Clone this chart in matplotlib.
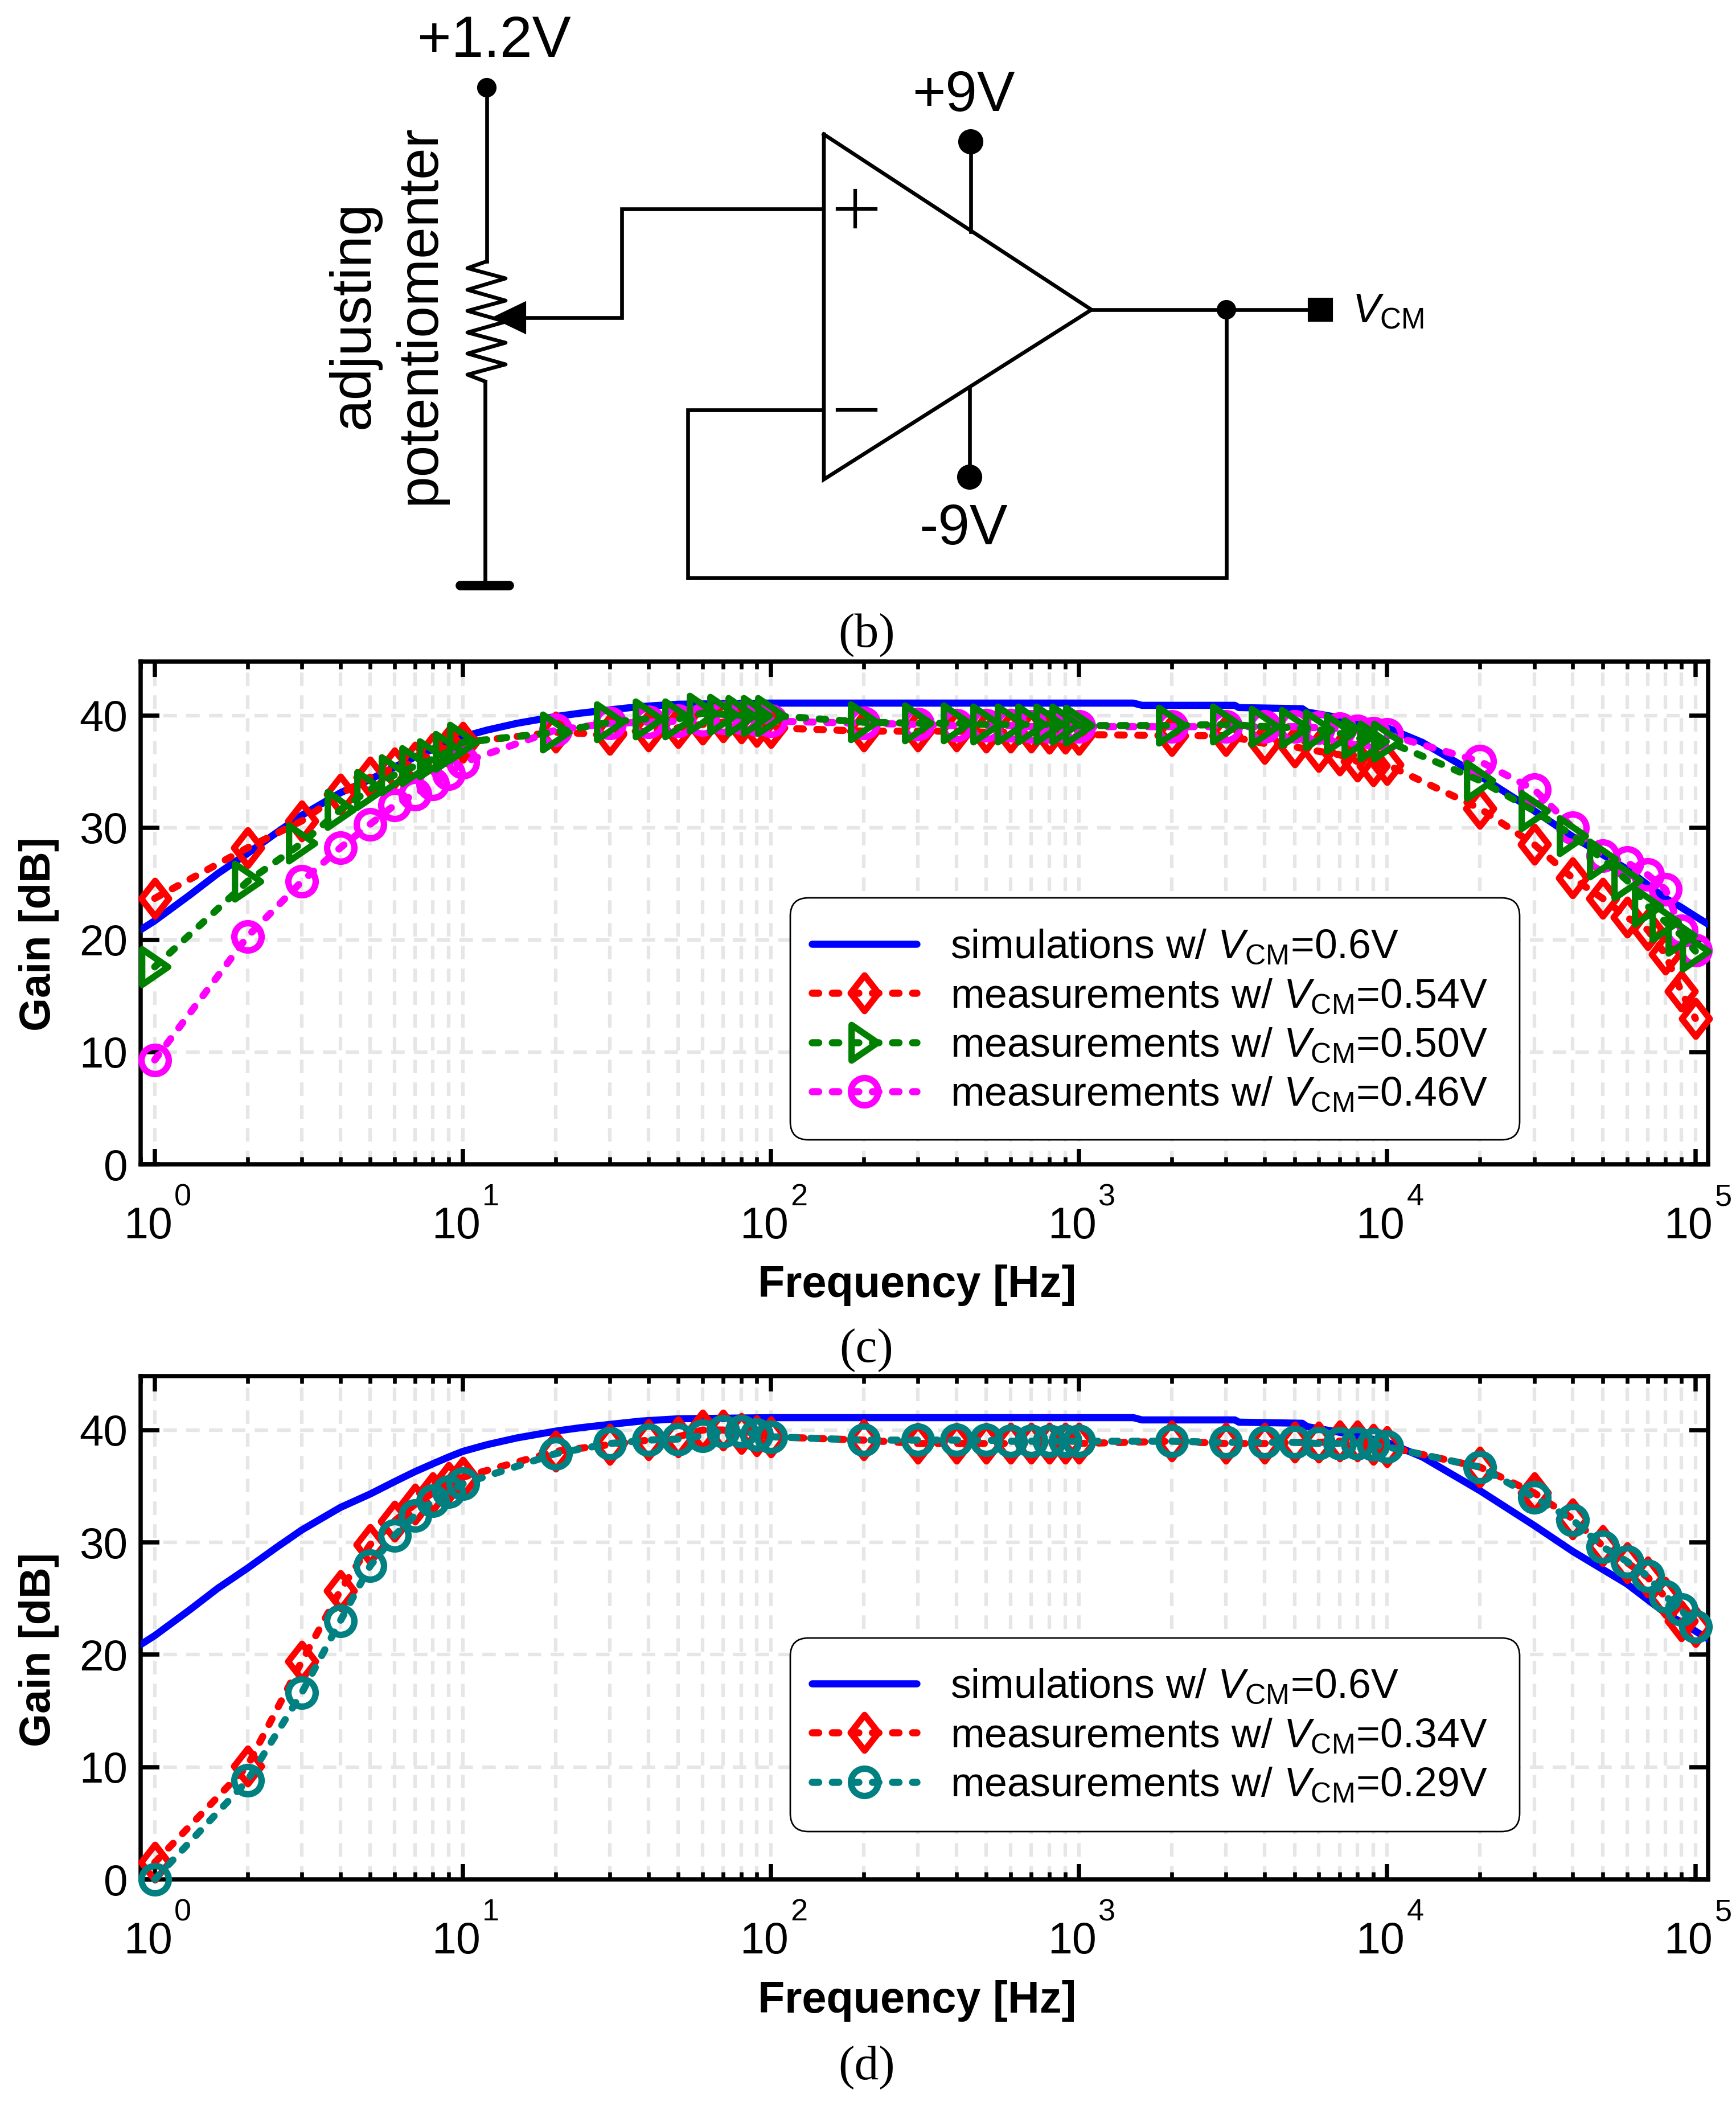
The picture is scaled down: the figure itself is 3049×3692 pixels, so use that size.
import matplotlib
matplotlib.use("Agg")
import matplotlib.pyplot as plt
from matplotlib.markers import MarkerStyle
from matplotlib.path import Path
from matplotlib.patches import Polygon, Rectangle, Circle, FancyBboxPatch
from matplotlib.ticker import LogLocator, NullFormatter

plt.rcParams["font.family"] = ["Liberation Sans", "DejaVu Sans"]
plt.rcParams["mathtext.fontset"] = "custom"
plt.rcParams["mathtext.rm"] = "Liberation Sans"
plt.rcParams["mathtext.it"] = "Liberation Sans:italic"
plt.rcParams["mathtext.bf"] = "Liberation Sans:bold"

W, H = 3049, 3692

freq = [1, 2, 3, 4, 5, 6, 7, 8, 9, 10,
        20, 30, 40, 50, 60, 70, 80, 90, 100,
        200, 300, 400, 500, 600, 700, 800, 900, 1000,
        2000, 3000, 4000, 5000, 6000, 7000, 8000, 9000, 10000,
        20000, 30000, 40000, 50000, 60000, 70000, 80000, 90000, 100000]

sim_freq = [0.9, 1, 1.3, 1.6, 2, 2.5, 3, 4, 5, 6, 7, 8, 9, 10, 12, 15, 20, 24, 30,
            38, 50, 100, 500, 1500, 1600, 3200, 3300, 5300, 5500, 7000, 10000, 13000,
            20000, 30000, 40000, 50000, 60000, 70000, 80000, 90000, 100000, 110000]
sim_gain = [20.9, 21.7, 24.0, 25.9, 27.7, 29.6, 31.1, 33.1, 34.3, 35.4, 36.3, 37.0, 37.6,
            38.1, 38.7, 39.3, 39.9, 40.2, 40.5, 40.8, 41.0, 41.1, 41.1, 41.1, 40.9, 40.9,
            40.7, 40.6, 40.3, 39.8, 38.9, 37.6, 34.6, 31.5, 29.2, 27.6, 26.3, 24.9, 23.7,
            22.9, 22.1, 21.4]

gain_054 = [23.7, 28.2, 30.6, 33.0, 34.5, 35.3, 35.8, 36.6, 37.2, 37.6,
            38.5, 38.3, 38.6, 38.9, 39.2, 39.4, 39.3, 39.0, 38.9,
            38.6, 38.6, 38.6, 38.5, 38.5, 38.5, 38.4, 38.4, 38.3,
            38.2, 38.2, 37.5, 37.2, 36.8, 36.5, 35.9, 35.5, 35.6,
            31.7, 28.5, 25.5, 23.7, 22.0, 20.9, 18.7, 15.4, 13.0]
gain_050 = [17.6, 25.2, 28.6, 31.6, 33.4, 34.7, 35.5, 36.1, 36.8, 37.6,
            38.5, 39.4, 39.7, 39.7, 40.2, 40.1, 40.0, 40.0, 40.0,
            39.4, 39.3, 39.3, 39.2, 39.2, 39.2, 39.2, 39.2, 39.1,
            39.1, 39.2, 39.0, 38.9, 38.7, 38.4, 38.0, 37.7, 37.7,
            34.2, 31.5, 29.3, 27.2, 25.3, 23.0, 21.6, 20.4, 19.0]
gain_046 = [9.3, 20.3, 25.2, 28.2, 30.3, 32.0, 33.0, 33.9, 34.8, 35.8,
            38.7, 39.3, 39.4, 39.5, 39.6, 39.8, 39.8, 39.6, 39.5,
            39.3, 39.2, 39.1, 39.1, 39.1, 39.0, 39.0, 39.0, 39.0,
            39.0, 39.0, 39.0, 39.0, 38.9, 38.8, 38.6, 38.4, 38.3,
            35.9, 33.4, 30.0, 27.5, 26.9, 25.8, 24.5, 20.8, 19.1]
gain_034 = [1.5, 10.1, 19.4, 25.7, 29.8, 31.9, 33.4, 34.4, 35.3, 35.8,
            38.1, 38.7, 39.1, 39.4, 40.0, 40.0, 39.7, 39.5, 39.4,
            39.1, 38.8, 38.8, 38.8, 38.8, 38.8, 38.8, 38.8, 38.8,
            39.0, 38.8, 38.8, 38.9, 38.9, 39.0, 39.0, 38.7, 38.5,
            36.7, 34.4, 32.1, 29.7, 28.2, 26.9, 25.1, 23.0, 22.5]
gain_029 = [0.0, 8.8, 16.6, 23.0, 27.9, 30.6, 32.4, 33.7, 34.5, 35.2,
            37.9, 38.8, 39.1, 39.2, 39.5, 39.9, 39.9, 39.6, 39.4,
            39.1, 39.1, 39.1, 39.1, 39.0, 39.0, 39.0, 39.0, 39.0,
            39.0, 38.9, 38.9, 38.9, 38.8, 38.8, 38.8, 38.7, 38.5,
            36.7, 34.0, 32.0, 29.6, 28.3, 27.0, 25.2, 24.0, 22.5]

ytick_vals = [0, 10, 20, 30, 40]
decades = [1, 10, 100, 1000, 10000, 100000]
exponents = ["0", "1", "2", "3", "4", "5"]

DASH = (0, (0.92, 1.9))
diamond = MarkerStyle(Path([(0, 1), (0.78, 0), (0, -1), (-0.78, 0), (0, 1)], closed=True),
                      joinstyle="round")
triangle = MarkerStyle(Path([(-0.73, 1), (0.73, 0), (-0.73, -1), (-0.73, 1)], closed=True),
                       joinstyle="round")


def pos(left, top, right, bottom):
    return [left / W, 1 - bottom / H, (right - left) / W, (bottom - top) / H]


def style_axes(ax):
    ax.set_xscale("log")
    ax.set_xlim(0.9, 1.1e5)
    ax.set_ylim(0, 44.8)
    ax.set_yticks(ytick_vals)
    ax.xaxis.set_major_locator(LogLocator(base=10, numticks=10))
    ax.xaxis.set_minor_locator(LogLocator(base=10, subs=range(2, 10), numticks=10))
    ax.xaxis.set_major_formatter(NullFormatter())
    ax.xaxis.set_minor_formatter(NullFormatter())
    ax.grid(True, which="major", axis="both", color="#e6e6e6", lw=1.5, ls=(0, (3.8, 2.6)))
    ax.grid(True, which="minor", axis="x", color="#e6e6e6", lw=1.5, ls=(0, (3.8, 2.6)))
    ax.set_axisbelow(True)
    ax.tick_params(which="major", axis="x", direction="in", top=True, bottom=True,
                   length=6.5, width=1.8)
    ax.tick_params(which="major", axis="y", direction="in", left=True, right=True,
                   length=8, width=1.8, labelsize=18.3, pad=5.5)
    ax.tick_params(which="minor", axis="x", direction="in", top=True, bottom=True,
                   length=3.2, width=1.6)
    for s in ax.spines.values():
        s.set_linewidth(1.8)
    # "10" and its exponent sit apart in the original, wider than mathtext sets them
    for d, e in zip(decades, exponents):
        ax.annotate("10", xy=(d, 0), xycoords=("data", "axes fraction"),
                    xytext=(-55, -130), textcoords="offset pixels",
                    fontsize=18.5, ha="left", va="baseline")
        ax.annotate(e, xy=(d, 0), xycoords=("data", "axes fraction"),
                    xytext=(34, -72), textcoords="offset pixels",
                    fontsize=13, ha="left", va="baseline")


def meas(ax, gain, color, marker, ms, label, z):
    line, = ax.plot(freq, gain, ls=DASH, dash_capstyle="round", color=color, lw=3.0,
                    marker=marker, ms=ms, mew=2.7, mfc="none", mec=color,
                    label=label, clip_on=False, zorder=z)
    return line


def legend(ax, handles, frame, first_row):
    # frame drawn apart: side padding is smaller than top and bottom padding
    left, top, right, bottom = frame
    ax.add_patch(FancyBboxPatch((left, top), right - left, bottom - top,
                                boxstyle="round,pad=0,rounding_size=32",
                                transform=sk.transData, fc="white", ec="k", lw=0.65,
                                clip_on=False, zorder=5))
    anchor = ax.transAxes.inverted().transform(sk.transData.transform((1426, first_row - 31)))
    leg = ax.legend(handles=handles, loc="upper left", bbox_to_anchor=tuple(anchor),
                    borderaxespad=0, fontsize=17.2, numpoints=1, handlelength=2.57,
                    handletextpad=0.82, borderpad=0, labelspacing=0.27, frameon=False)
    leg.set_zorder(6)


fig = plt.figure(figsize=(W / 300, H / 300), dpi=300)

# schematic (b) and captions, in picture pixels
sk = fig.add_axes([0, 0, 1, 1], zorder=-1)
sk.set_xlim(0, W)
sk.set_ylim(H, 0)
sk.axis("off")

# panel (c)
ax1 = fig.add_axes(pos(247, 1162, 3000, 2045))
style_axes(ax1)
sim1, = ax1.plot(sim_freq, sim_gain, color="#0000ff", lw=3.0, zorder=3,
                 solid_capstyle="round",
                 label=r"simulations w/ $V_{\mathrm{CM}}$=0.6V")
r1 = meas(ax1, gain_054, "#ff0000", diamond, 15, r"measurements w/ $V_{\mathrm{CM}}$=0.54V", 4)
m1 = meas(ax1, gain_046, "#ff00ff", "o", 11.5, r"measurements w/ $V_{\mathrm{CM}}$=0.46V", 4.1)
g1 = meas(ax1, gain_050, "#008000", triangle, 15, r"measurements w/ $V_{\mathrm{CM}}$=0.50V", 4.2)
legend(ax1, [sim1, r1, g1, m1], (1388, 1577, 2669, 2002), 1662)
ax1.set_xlabel("Frequency [Hz]", fontsize=18.6, fontweight="bold", va="center")
ax1.xaxis.set_label_coords(0.4955, -0.241)
ax1.set_ylabel("Gain [dB]", fontsize=18.2, fontweight="bold", va="center")
ax1.yaxis.set_label_coords(-0.065, 0.458)

# panel (d)
ax2 = fig.add_axes(pos(247, 2417, 3000, 3301))
style_axes(ax2)
sim2, = ax2.plot(sim_freq, sim_gain, color="#0000ff", lw=3.0, zorder=3,
                 solid_capstyle="round",
                 label=r"simulations w/ $V_{\mathrm{CM}}$=0.6V")
r2 = meas(ax2, gain_034, "#ff0000", diamond, 15, r"measurements w/ $V_{\mathrm{CM}}$=0.34V", 4)
t2 = meas(ax2, gain_029, "#008080", "o", 11.5, r"measurements w/ $V_{\mathrm{CM}}$=0.29V", 4.1)
legend(ax2, [sim2, r2, t2], (1388, 2877, 2669, 3217), 2961)
ax2.set_xlabel("Frequency [Hz]", fontsize=18.6, fontweight="bold", va="center")
ax2.xaxis.set_label_coords(0.4955, -0.242)
ax2.set_ylabel("Gain [dB]", fontsize=18.2, fontweight="bold", va="center")
ax2.yaxis.set_label_coords(-0.065, 0.456)

wires = [
    ([855, 855], [154, 459]),
    ([852, 852], [670, 1028]),
    ([922, 1092, 1092, 1444], [558, 558, 367, 367]),
    ([1705, 1705], [249, 407]),
    ([1703, 1703], [680, 838]),
    ([1917, 2319], [544, 544]),
    ([2154, 2154, 1208, 1208, 1444], [544, 1015, 1015, 720, 720]),
    ([1447, 1447, 1917, 1447], [236, 842, 544, 236]),
]
for xs, ys in wires:
    sk.plot(xs, ys, color="k", lw=1.6, solid_joinstyle="miter")

zig_x = [855, 821, 888, 821, 888, 821, 888, 821, 888, 821, 888, 821, 852]
zig_y = [459, 471, 489, 509, 528, 546, 565, 584, 602, 621, 640, 658, 670]
sk.plot(zig_x, zig_y, color="k", lw=1.6)

sk.plot([1471, 1538], [367, 367], color="k", lw=1.5)
sk.plot([1502, 1502], [335, 398], color="k", lw=1.5)
sk.plot([1471, 1538], [720, 720], color="k", lw=1.5)
sk.plot([808, 894], [1028, 1028], color="k", lw=4, solid_capstyle="round")

sk.add_patch(Polygon([[868, 558], [922, 532], [922, 584]], color="k"))
sk.add_patch(Rectangle((2299, 525), 40, 38, color="k"))
for cx, cy, r in [(855, 154, 15), (1705, 249, 20), (1703, 838, 20), (2154, 544, 15)]:
    sk.add_patch(Circle((cx, cy), r, color="k"))

sk.text(868, 74, "+1.2V", fontsize=24.5, ha="center", va="center")
sk.text(1692, 169, "+9V", fontsize=24, ha="center", va="center")
sk.text(1692, 930, "-9V", fontsize=24, ha="center", va="center")
sk.text(622, 553, "adjusting", fontsize=24, rotation=90, ha="center", va="center")
sk.text(738, 553, "potentiomenter", fontsize=24, rotation=90, ha="center", va="center")
sk.text(2375, 548, r"$V_{\mathrm{CM}}$", fontsize=17.5, ha="left", va="center")

for y, cap in [(1115, "(b)"), (2371, "(c)"), (3631, "(d)")]:
    sk.text(1522, y, cap, fontsize=20.5, family="Liberation Serif", ha="center", va="center")

fig.savefig("out.png", dpi=300)
